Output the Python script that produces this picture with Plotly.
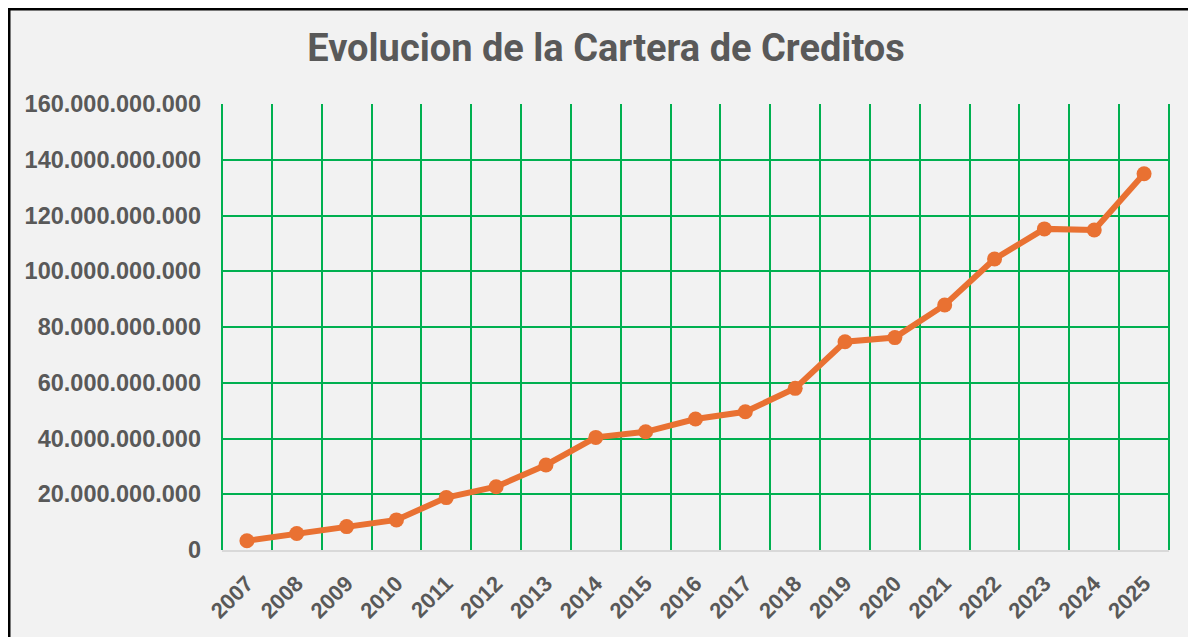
import plotly.graph_objects as go

years = [str(y) for y in range(2007, 2026)]
cartera = [3.3e9, 5.9e9, 8.4e9, 10.8e9, 18.8e9, 22.7e9, 30.5e9, 40.4e9, 42.4e9,
           47.0e9, 49.6e9, 58.0e9, 74.7e9, 76.2e9, 87.9e9, 104.4e9, 115.2e9,
           114.8e9, 135.0e9]
ytick_vals = [0, 20e9, 40e9, 60e9, 80e9, 100e9, 120e9, 140e9, 160e9]
ytick_text = ["0", "20.000.000.000", "40.000.000.000", "60.000.000.000",
              "80.000.000.000", "100.000.000.000", "120.000.000.000",
              "140.000.000.000", "160.000.000.000"]

GREEN = "#00B050"
ORANGE = "#E97132"
GRAY = "#595959"

# page body has an 8px default margin; figure coords = screen coords - 8
L, T = 214, 96
PW, PH = 947, 446
W, H = 1196, 637

fig = go.Figure()
fig.add_trace(go.Scatter(
    x=years, y=cartera, mode="lines+markers",
    line=dict(color=ORANGE, width=6),
    marker=dict(color=ORANGE, size=15),
    hoverinfo="x+y", showlegend=False,
))

fig.update_layout(
    width=W, height=H,
    paper_bgcolor="#F2F2F2", plot_bgcolor="#F2F2F2",
    margin=dict(l=L, r=W - L - PW, t=T, b=H - T - PH, autoexpand=False),
    title=dict(text="<b>Evolucion de la Cartera de Creditos</b>",
               x=0.5, xanchor="center", y=1 - 40 / H, yanchor="middle",
               font=dict(family="Roboto", size=38, color=GRAY)),
    font=dict(family="Liberation Sans", color=GRAY),
    xaxis=dict(
        type="category", range=[-0.5, 18.5], tickson="boundaries",
        showgrid=True, gridcolor=GREEN, gridwidth=2,
        ticks="", tickangle=-45, ticklabelstandoff=10,
        tickfont=dict(family="Liberation Sans", size=22, color=GRAY, weight="bold"),
        showline=True, linecolor="#D9D9D9", linewidth=2,
        zeroline=False,
    ),
    yaxis=dict(
        range=[0, 160e9], tickvals=ytick_vals, ticktext=ytick_text,
        showgrid=True, gridcolor=GREEN, gridwidth=2,
        tickfont=dict(family="Liberation Sans", size=23.5, color=GRAY, weight="bold"),
        ticklabelstandoff=20, zeroline=False,
        showline=False,
    ),
    shapes=[
        dict(type="line", xref="paper", yref="paper", x0=0, x1=0, y0=0, y1=1,
             line=dict(color=GREEN, width=2), layer="below"),
        dict(type="line", xref="paper", yref="paper", x0=1, x1=1, y0=0, y1=1,
             line=dict(color=GREEN, width=2), layer="below"),
        dict(type="rect", xref="paper", yref="paper",
             x0=(1 - L) / PW, x1=1.3, y0=-0.5, y1=1 + (T - 1) / PH,
             line=dict(color="black", width=3), fillcolor="rgba(0,0,0,0)",
             layer="above"),
    ],
)

fig.write_html("out.html")
